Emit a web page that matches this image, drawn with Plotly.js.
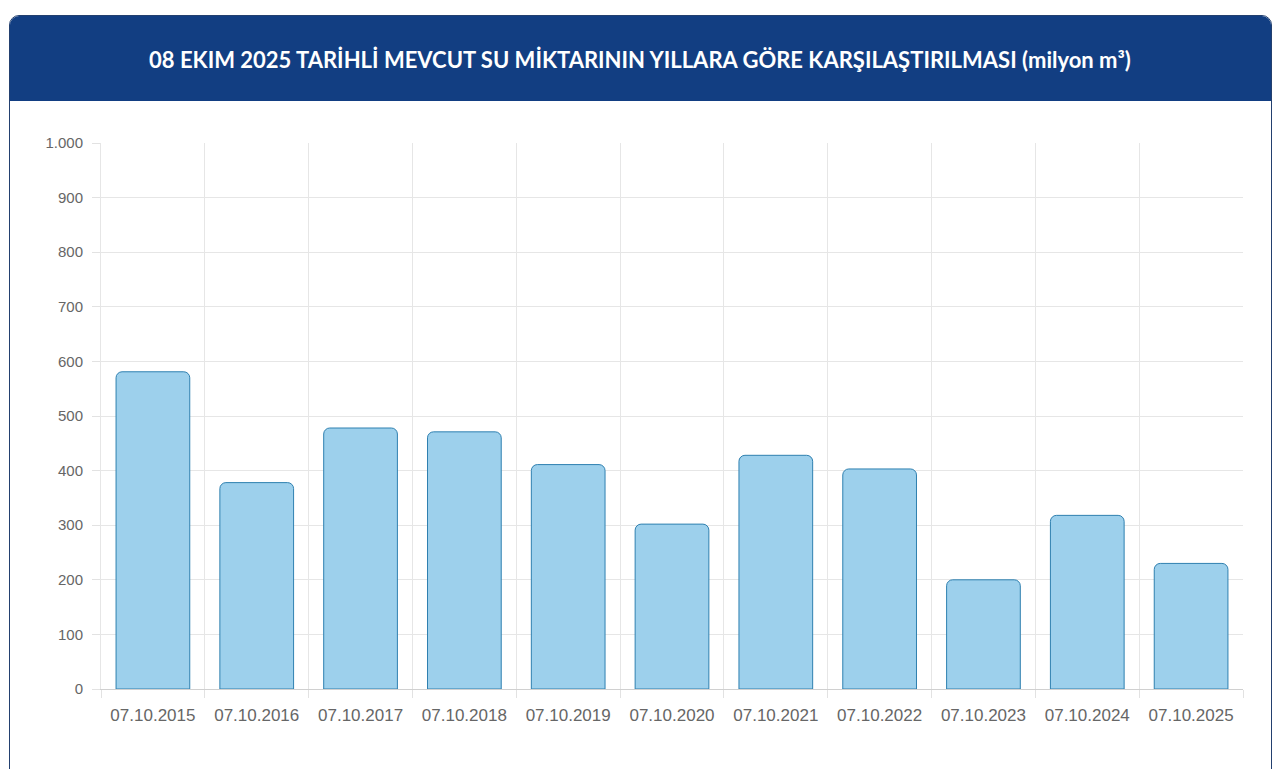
<!DOCTYPE html>
<html>
<head>
<meta charset="utf-8">
<script src="https://cdn.plot.ly/plotly-3.0.1.min.js"></script>
<style>
  html, body { margin: 0; padding: 0; background: #ffffff; width: 1280px; height: 769px; overflow: hidden; }
  #card { position: absolute; left: 9px; top: 15px; width: 1261px; height: 780px;
          border: 1px solid #23406f; border-radius: 10px 10px 0 0; background: #fff; overflow: hidden; }
  #header { position: absolute; left: 0; top: 0; width: 100%; height: 85px; background: #123e82; }
  #chart { position: absolute; left: 0; top: 0; width: 1280px; height: 769px; }
</style>
</head>
<body>
<div id="card"><div id="header"></div></div>
<div id="chart"></div>
<script>
const titleText = "08 EKIM 2025 TARİHLİ MEVCUT SU MİKTARININ YILLARA GÖRE KARŞILAŞTIRILMASI (milyon m³)";
const categories = ["07.10.2015","07.10.2016","07.10.2017","07.10.2018","07.10.2019","07.10.2020","07.10.2021","07.10.2022","07.10.2023","07.10.2024","07.10.2025"];
const values = [581, 378, 478, 471, 411, 302, 428, 403, 200, 318, 230];
const yTicks = [0, 100, 200, 300, 400, 500, 600, 700, 800, 900, 1000];

const trace = {
  type: "bar",
  x: categories,
  y: values,
  width: 0.71,
  marker: { color: "#9dd0ec", line: { color: "#2f80b0", width: 1 }, cornerradius: 6 },
  hoverinfo: "x+y"
};

const layout = {
  width: 1280, height: 769,
  margin: { l: 101, r: 37, t: 143, b: 80 },
  paper_bgcolor: "rgba(0,0,0,0)",
  plot_bgcolor: "rgba(0,0,0,0)",
  separators: ",.",
  showlegend: false,
  title: {
    text: titleText,
    x: 0.5, xref: "container", xanchor: "center",
    y: 1 - 60/769, yref: "container", yanchor: "middle",
    font: { family: "Lato, 'Noto Sans', sans-serif", size: 22, color: "#ffffff", weight: 700 }
  },
  xaxis: {
    type: "category",
    tickson: "boundaries",
    ticks: "outside", ticklen: 8, tickcolor: "#e2e2e2",
    showgrid: true, gridcolor: "#e6e6e6", gridwidth: 1,
    showline: true, linecolor: "#d0d0d0", mirror: false,
    tickfont: { family: "'Liberation Sans', Arial, sans-serif", size: 17, color: "#666666" },
    ticklabelstandoff: 11,
    fixedrange: true
  },
  yaxis: {
    range: [0, 1000],
    tickvals: yTicks,
    tickformat: ",d",
    ticks: "outside", ticklen: 8, tickcolor: "#e2e2e2",
    showgrid: true, gridcolor: "#e6e6e6", gridwidth: 1,
    showline: true, linecolor: "#e6e6e6",
    zeroline: false,
    tickfont: { family: "'Liberation Sans', Arial, sans-serif", size: 15, color: "#666666" },
    ticklabelstandoff: 6,
    fixedrange: true
  }
};

Plotly.newPlot("chart", [trace], layout, { displayModeBar: false, staticPlot: false });
</script>
</body>
</html>
